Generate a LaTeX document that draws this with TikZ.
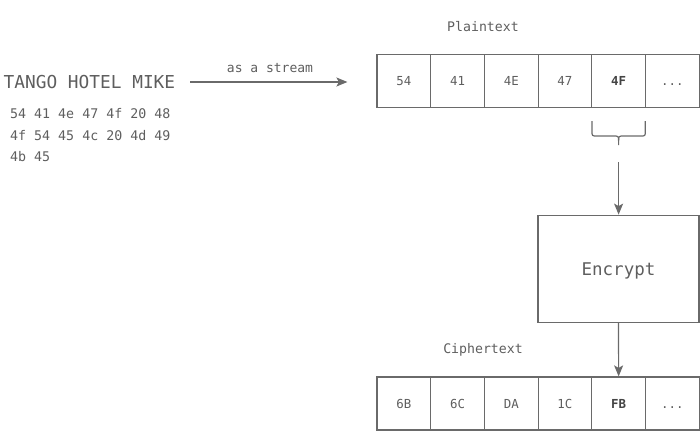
\documentclass[tikz,border=0pt]{standalone}
\usepackage{fontspec}
\setmainfont{DejaVu Sans Mono}
\usetikzlibrary{arrows.meta,calc}
\definecolor{ln}{HTML}{6A6A6A}
\definecolor{tx}{HTML}{5E5E5E}
\definecolor{bd}{HTML}{444444}
\begin{document}
\begin{tikzpicture}[x=1pt,y=-1pt,
  cell/.style={draw=ln,line width=1.2pt,minimum width=53.7pt,minimum height=53pt,inner sep=0pt,text=tx,text height=9pt,text depth=0pt,font=\fontsize{12.4}{14}\selectfont},
  boldcell/.style={cell,text=bd,font=\fontsize{12.4}{14}\selectfont\bfseries},
  lbl/.style={inner sep=0pt,text=tx,text depth=0pt},
  arr/.style={draw=ln,line width=1.2pt,-{Stealth[length=11pt,width=9pt,inset=2.5pt]}}
]
\useasboundingbox (0,0) rectangle (700,431);
% left texts
\node[lbl,anchor=west,font=\fontsize{17.8}{20}\selectfont] (title) at (3.5,82) {TANGO HOTEL MIKE};
\node[lbl,anchor=west,font=\fontsize{13.3}{15}\selectfont] (h1) at (10,113) {54 41 4e 47 4f 20 48};
\node[lbl,anchor=west,font=\fontsize{13.3}{15}\selectfont] (h2) at (10,135) {4f 54 45 4c 20 4d 49};
\node[lbl,anchor=west,font=\fontsize{13.3}{15}\selectfont] (h3) at (10,156) {4b 45};
% plaintext row
\node[lbl,font=\fontsize{13.2}{15}\selectfont] (ptl) at (483,26) {Plaintext};
\node[cell] (p1) at (403.85,80.8) {54};
\node[cell] (p2) at (457.55,80.8) {41};
\node[cell] (p3) at (511.25,80.8) {4E};
\node[cell] (p4) at (564.95,80.8) {47};
\node[boldcell] (p5) at (618.65,80.8) {4F};
\node[cell] (p6) at (672.35,80.8) {...};
% stream arrow
\draw[arr,shorten <=15pt,shorten >=29pt] (title.east) -- (title.east -| p1.west);
\node[lbl,font=\fontsize{13}{15}\selectfont] (st) at (270,68) {as a stream};
% brace
\draw[draw=ln,line width=1.2pt] (592,121) -- (592,131) .. controls (592,136) .. (597,136) -- (613,136)
  .. controls (618.6,136) .. (618.6,141) -- (618.6,145);
\draw[draw=ln,line width=1.2pt] (645.3,121) -- (645.3,131) .. controls (645.3,136) .. (640.3,136) -- (624.2,136)
  .. controls (618.6,136) .. (618.6,141);
\coordinate (bt) at (618.6,145);
% encrypt
\node[draw=ln,line width=1.2pt,minimum width=161pt,minimum height=107pt,inner sep=0pt,text=tx,text depth=0pt,font=\fontsize{17.5}{20}\selectfont] (enc) at (618.5,268.7) {Encrypt};
\draw[arr,shorten <=17pt] (bt) -- (bt |- enc.north);
% ciphertext row
\node[lbl,font=\fontsize{13.2}{15}\selectfont] (ctl) at (483,348) {Ciphertext};
\node[cell] (c1) at (403.85,403.5) {6B};
\node[cell] (c2) at (457.55,403.5) {6C};
\node[cell] (c3) at (511.25,403.5) {DA};
\node[cell] (c4) at (564.95,403.5) {1C};
\node[boldcell] (c5) at (618.65,403.5) {FB};
\node[cell] (c6) at (672.35,403.5) {...};
\draw[arr] (enc.south) -- (c5.north);
\end{tikzpicture}
\end{document}
